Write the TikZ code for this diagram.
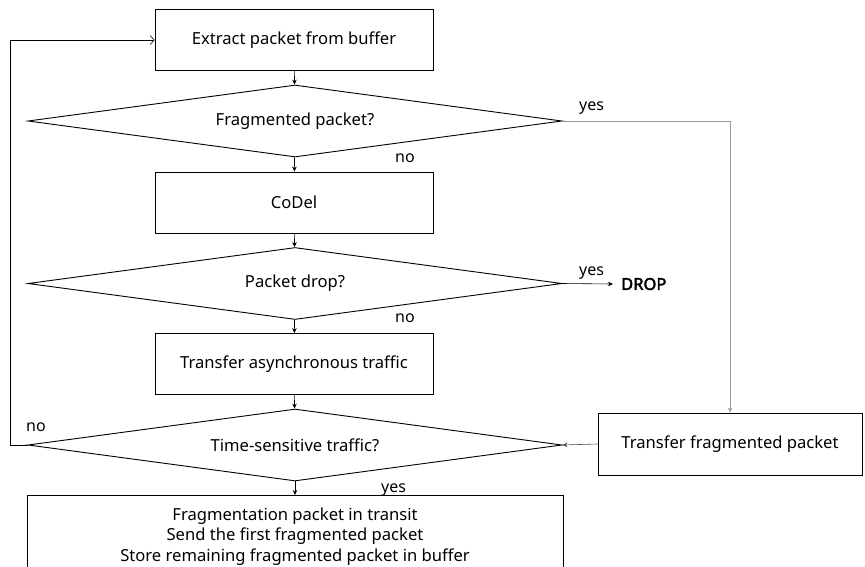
\documentclass[tikz,border=0pt]{standalone}
\usepackage{fontspec}
\setmainfont{Noto Sans}[AutoFakeBold=2.5]
\usetikzlibrary{shapes.geometric,arrows.meta}
\begin{document}
\begin{tikzpicture}[x=1pt,y=-1pt,
  every node/.style={font=\fontsize{16.6}{20.5}\selectfont},
  proc/.style={draw, line width=0.9pt, minimum width=278pt, minimum height=61pt, inner sep=0pt},
  decision/.style={draw, diamond, line width=0.9pt, minimum width=534pt, minimum height=72pt, aspect=7.4, inner sep=0pt},
  flow/.style={line width=0.6pt, -{Stealth[length=5pt,width=4.5pt]}},
  gflow/.style={flow, draw=black!40},
  lbl/.style={inner sep=0pt, font=\fontsize{16}{18}\selectfont}]
\useasboundingbox (0,0) rectangle (865,566);
\clip (0,0) rectangle (865,566);

% process boxes
\node[proc] (extract) at (294,40) {Extract packet from buffer};
\node[proc] (codel) at (294,202.5) {CoDel};
\node[proc] (async) at (294,364) {Transfer asynchronous traffic};
\node[proc, minimum width=264pt, minimum height=62pt] (frag) at (730,444) {Transfer fragmented packet};
\node[proc, minimum width=536pt, minimum height=95pt, anchor=north, align=center] (final) at (295,495)
  {\\[-21pt]Fragmentation packet in transit\\Send the first fragmented packet\\Store remaining fragmented packet in buffer};

% decisions
\node[decision] (d1) at (295,121) {Fragmented packet?};
\node[decision] (d2) at (295,283.5) {Packet drop?};
\node[decision] (d3) at (295,445) {Time-sensitive traffic?};

% drop terminal
\node[anchor=west, inner xsep=8pt, inner ysep=0pt, font=\fontsize{16.5}{18}\selectfont\bfseries] (drop) at (613,284) {DROP};

% loop-back corner
\coordinate (loop) at (10,0);

% main flow
\draw[flow] (extract) -- (d1);
\draw[flow] (d1) -- (codel);
\draw[flow] (codel) -- (d2);
\draw[flow] (d2) -- (async);
\draw[flow] (async) -- (d3);
\draw[flow] (d3) -- (final);
\draw[flow] (d2.east) -- (drop.west);
\draw[gflow] (d1.east) -| (frag.north);
\draw[flow, draw=black!70] (frag.west) -- (d3.east);
\draw[line width=0.6pt, -{Straight Barb[length=4pt,width=9pt,line width=0.6pt]}]
  (d3.west) -- (d3.west -| loop) |- (extract.west);

% branch labels
\node[lbl, anchor=base west] (l1) at (395,162) {no};
\node[lbl, anchor=base west] (l2) at (579,110) {yes};
\node[lbl, anchor=base west] (l3) at (579,275) {yes};
\node[lbl, anchor=base west] (l4) at (395,322) {no};
\node[lbl, anchor=base west] (l5) at (26,431) {no};
\node[lbl, anchor=base west] (l6) at (381,492) {yes};
\end{tikzpicture}
\end{document}
